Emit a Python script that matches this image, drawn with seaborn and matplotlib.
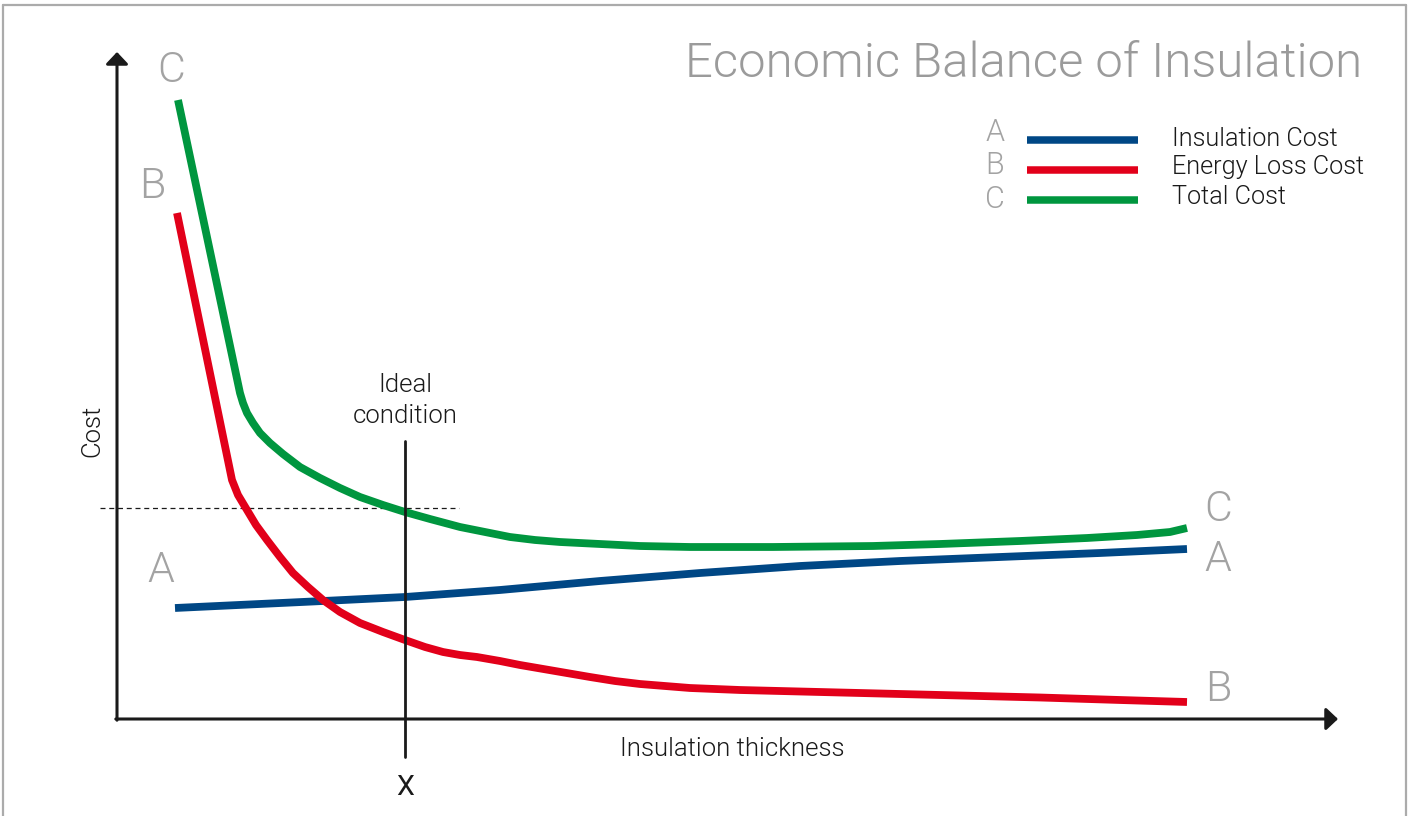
import numpy as np
import pandas as pd
import matplotlib
matplotlib.use("Agg")
import matplotlib.pyplot as plt
from matplotlib.lines import Line2D
import seaborn as sns

# ---- data (thickness and cost in arbitrary units) ----
insul_x = [0.58, 2.06, 2.88, 3.83, 4.83, 5.83, 6.83, 7.83, 8.83, 9.83, 10.70]
insul_y = [1.11, 1.18, 1.22, 1.29, 1.38, 1.46, 1.53, 1.58, 1.62, 1.66, 1.70]

energy_x = [0.60, 1.15, 1.21, 1.30, 1.39, 1.50, 1.63, 1.76, 1.91, 2.06, 2.23,
            2.43, 2.66, 2.88, 3.08, 3.26, 3.43, 3.60, 3.83, 4.03, 4.38, 4.73,
            4.98, 5.23, 5.48, 5.73, 6.23, 7.23, 8.23, 9.23, 10.03, 10.70]
energy_y = [5.06, 2.39, 2.24, 2.09, 1.94, 1.79, 1.62, 1.46, 1.32, 1.19, 1.07,
            0.96, 0.87, 0.79, 0.72, 0.67, 0.64, 0.62, 0.58, 0.54, 0.48, 0.42,
            0.38, 0.35, 0.33, 0.31, 0.29, 0.265, 0.24, 0.215, 0.19, 0.17]

total_x = [0.61, 1.23, 1.26, 1.30, 1.36, 1.43, 1.53, 1.66, 1.83, 2.03, 2.23,
           2.43, 2.66, 2.88, 3.13, 3.43, 3.68, 3.93, 4.18, 4.43, 4.83, 5.23,
           5.73, 6.56, 7.56, 8.23, 9.03, 9.70, 10.20, 10.53, 10.70]
total_y = [6.19, 3.26, 3.16, 3.06, 2.96, 2.86, 2.76, 2.65, 2.52, 2.41, 2.31,
           2.22, 2.14, 2.07, 2.00, 1.92, 1.87, 1.82, 1.79, 1.77, 1.75, 1.73,
           1.72, 1.72, 1.73, 1.75, 1.78, 1.81, 1.84, 1.87, 1.91]

series_names = ["Insulation Cost", "Energy Loss Cost", "Total Cost"]
series_letters = ["A", "B", "C"]
series_colors = ["#004785", "#e2001a", "#00963f"]

ideal_x = 2.88
ideal_cost = 2.11

# ---- styling ----
sns.set_theme(style="white")
plt.rcParams["font.family"] = ["Roboto", "DejaVu Sans"]
plt.rcParams["font.weight"] = 300

LIGHT = dict(family=["Roboto", "DejaVu Sans"], weight=300)
LETTER_GRAY = "#a3a3a3"
TEXT_DARK = "#1a1a1a"
SMALL = 18.5

fig = plt.figure(figsize=(14.11, 8.16), dpi=100)
fig.patch.set_facecolor("white")
ax = fig.add_axes([0, 0, 1, 1])
ax.set_xlim(-1.17, 12.94)
ax.set_ylim(-0.97, 7.19)
ax.axis("off")

# ---- curves ----
frames = []
for name, xs, ys in zip(series_names,
                        [insul_x, energy_x, total_x],
                        [insul_y, energy_y, total_y]):
    frames.append(pd.DataFrame({"thickness": xs, "cost": ys, "series": name}))
df = pd.concat(frames, ignore_index=True)

sns.lineplot(data=df, x="thickness", y="cost", hue="series",
             hue_order=series_names, palette=series_colors,
             linewidth=5.6, legend=False, ax=ax, zorder=3,
             solid_capstyle="butt", solid_joinstyle="round",
             estimator=None, sort=False)

# ---- axes with arrowheads ----
arrow_style = "-|>,head_length=0.36,head_width=0.34"
ax.annotate("", xy=(0, 6.67), xytext=(0, -0.012),
            arrowprops=dict(arrowstyle=arrow_style, mutation_scale=20,
                            lw=2.2, color="#1a1a1a", shrinkA=0, shrinkB=0))
ax.annotate("", xy=(12.21, 0), xytext=(-0.012, 0),
            arrowprops=dict(arrowstyle=arrow_style, mutation_scale=20,
                            lw=2.2, color="#1a1a1a", shrinkA=0, shrinkB=0))

# ---- ideal condition marker ----
ax.plot([ideal_x, ideal_x], [-0.38, 2.78], color="#1a1a1a", lw=2.0, zorder=4)
ax.plot([-0.17, 3.42], [ideal_cost, ideal_cost], color="#1a1a1a", lw=0.9,
        ls=(0, (4, 3)), zorder=2)
ax.text(ideal_x, 3.27, "Ideal", ha="center", va="baseline", fontsize=SMALL,
        color=TEXT_DARK, **LIGHT)
ax.text(ideal_x, 2.96, "condition", ha="center", va="baseline", fontsize=SMALL,
        color=TEXT_DARK, **LIGHT)
ax.text(ideal_x, -0.76, "X", ha="center", va="baseline", fontsize=20.5,
        color=TEXT_DARK, family=["Roboto", "DejaVu Sans"], weight="normal")

# ---- axis titles ----
ax.text(-0.25, 2.88, "Cost", rotation=90, ha="center", va="center",
        fontsize=SMALL, color=TEXT_DARK, **LIGHT)
ax.text(6.15, -0.37, "Insulation thickness", ha="center", va="baseline",
        fontsize=SMALL, color=TEXT_DARK, **LIGHT)

# ---- chart title ----
ax.text(12.45, 6.42, "Economic Balance of Insulation", ha="right",
        va="baseline", fontsize=35.4, color="#9b9b9b", **LIGHT)

# ---- curve letters ----
big = 31
letter_kw = dict(ha="center", va="baseline", fontsize=big, color=LETTER_GRAY, **LIGHT)
ax.text(0.54, 6.37, "C", **letter_kw)
ax.text(0.35, 5.21, "B", **letter_kw)
ax.text(0.44, 1.37, "A", **letter_kw)
ax.text(11.01, 1.98, "C", **letter_kw)
ax.text(11.01, 1.48, "A", **letter_kw)
ax.text(11.01, 0.18, "B", **letter_kw)

# ---- key ----
key_letter_y = [5.78, 5.45, 5.11]
key_line_y = [5.79, 5.49, 5.19]
key_label_y = [5.73, 5.45, 5.15]
for letter, name, color, ly, sy, ty in zip(series_letters, series_names,
                                           series_colors, key_letter_y,
                                           key_line_y, key_label_y):
    ax.text(8.78, ly, letter, ha="center", va="baseline", fontsize=22,
            color=LETTER_GRAY, **LIGHT)
    ax.plot([9.10, 10.21], [sy, sy], color=color, lw=5.4,
            solid_capstyle="butt")
    ax.text(10.55, ty, name, ha="left", va="baseline", fontsize=18.2,
            color=TEXT_DARK, **LIGHT)

# ---- page frame ----
W, H = 1411, 816
frame_kw = dict(color="#ababab", lw=1.6, transform=fig.transFigure)
fig.add_artist(Line2D([3 / W, 3 / W], [0, 1 - 5 / H], **frame_kw))
fig.add_artist(Line2D([3 / W, 1406 / W], [1 - 5 / H, 1 - 5 / H], **frame_kw))
fig.add_artist(Line2D([1406 / W, 1406 / W], [0, 1 - 5 / H], **frame_kw))

fig.savefig("out.png", dpi=100, facecolor="white")
